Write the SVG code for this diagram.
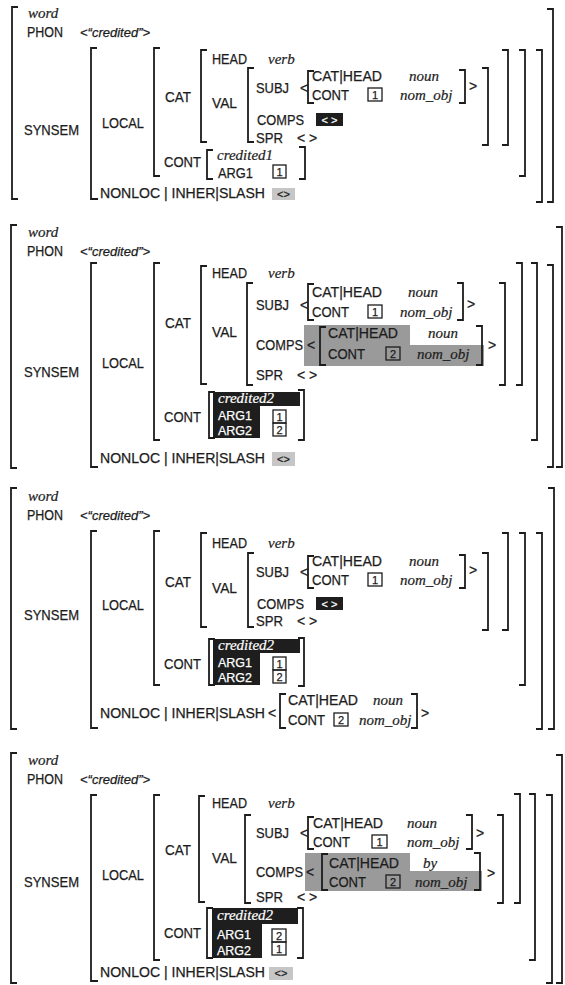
<svg xmlns="http://www.w3.org/2000/svg" width="565" height="985" viewBox="0 0 565 985">
<style>
text{font-family:"Liberation Sans",Arial,sans-serif;font-size:14px;fill:#1c1c1c;stroke:#1c1c1c;stroke-width:0.25}
.i{font-family:"Liberation Serif","Times New Roman",serif;font-style:italic;font-size:15px;stroke-width:0.2}
.ps{font-style:italic;font-size:13px}
.w{fill:#fff;stroke:#fff}
.a{font-size:12.5px}
.sm{font-size:11px}
.br{fill:none;stroke:#1c1c1c;stroke-width:1.8}
.tg{fill:none;stroke:#1c1c1c;stroke-width:1.3}
.tn{font-size:11px;text-anchor:middle}
.blk{fill:#1e1e1e}
.gry{fill:#9a9a9a}
.lgy{fill:#c6c6c6}
</style>
<rect width="565" height="985" fill="#fff"/>

<!-- PANEL 1 -->
<g id="avm1">
<path class="br" d="M18,7H12V199H18"/>
<path class="br" d="M547,9H553V202H547"/>
<text class="i" x="28" y="18">word</text>
<text x="27" y="37" textLength="36" lengthAdjust="spacingAndGlyphs">PHON</text>
<text class="ps" x="80" y="37">&lt;“credited”&gt;</text>
<text x="24" y="135" textLength="55" lengthAdjust="spacingAndGlyphs">SYNSEM</text>
<g id="avm1-synsem">
<path class="br" d="M97,48H91V199H98"/>
<path class="br" d="M536,50H542V202H536"/>
<text x="102" y="128" textLength="42" lengthAdjust="spacingAndGlyphs">LOCAL</text>
<g id="avm1-local">
<path class="br" d="M160,48H154V176H160"/>
<path class="br" d="M519,50H525V176H519"/>
<text x="165" y="102" textLength="26" lengthAdjust="spacingAndGlyphs">CAT</text>
<g id="avm1-cat">
<path class="br" d="M207,50H201V142H207"/>
<path class="br" d="M502,50H508V145H502"/>
<text x="212" y="64" textLength="35" lengthAdjust="spacingAndGlyphs">HEAD</text>
<text class="i" x="268" y="64">verb</text>
<text x="212" y="108" textLength="25" lengthAdjust="spacingAndGlyphs">VAL</text>
<g id="avm1-val">
<path class="br" d="M254,68H248V142H254"/>
<path class="br" d="M482,68H488V145H482"/>
<text x="256" y="93" textLength="33" lengthAdjust="spacingAndGlyphs">SUBJ</text>
<text x="300" y="93">&lt;</text>
<g id="avm1-subj">
<path class="br" d="M314,71H308V103H314"/>
<path class="br" d="M459,70H465V103H459"/>
<text x="312" y="81" textLength="70" lengthAdjust="spacingAndGlyphs">CAT|HEAD</text>
<text class="i" x="409" y="81">noun</text>
<text x="312" y="100" textLength="37" lengthAdjust="spacingAndGlyphs">CONT</text>
<rect class="tg" x="368" y="88" width="14" height="13"/><text class="tn" x="375" y="99">1</text>
<text class="i" x="400" y="100">nom_obj</text>
</g>
<text x="469" y="91">&gt;</text>
<text x="257" y="125" textLength="47" lengthAdjust="spacingAndGlyphs">COMPS</text>
<rect class="blk" x="316" y="113" width="27" height="13"/>
<text class="w sm" x="329.5" y="124" text-anchor="middle">&lt; &gt;</text>
<text x="256" y="143" textLength="27" lengthAdjust="spacingAndGlyphs">SPR</text>
<text x="297" y="143">&lt; &gt;</text>
</g>
</g>
<text x="164" y="167" textLength="37" lengthAdjust="spacingAndGlyphs">CONT</text>
<g id="avm1-cont">
<path class="br" d="M213,150H207V179H213"/>
<path class="br" d="M299,147H305V179H299"/>
<text class="i" x="217" y="160">credited1</text>
<text x="218" y="178" textLength="35" lengthAdjust="spacingAndGlyphs">ARG1</text>
<rect class="tg" x="273" y="165" width="13" height="13"/><text class="tn" x="279.5" y="176">1</text>
</g>
</g>
<text x="100" y="198" textLength="165" lengthAdjust="spacingAndGlyphs">NONLOC | INHER|SLASH</text>
<rect class="lgy" x="272" y="188" width="23" height="12"/>
<text class="sm" x="283.5" y="198" text-anchor="middle">&lt;&gt;</text>
</g>
</g>

<!-- PANEL 2 -->
<g id="avm2">
<path class="br" d="M17,225H11V468H17"/>
<path class="br" d="M556,227H562V467H556"/>
<text class="i" x="28" y="237">word</text>
<text x="27" y="256" textLength="36" lengthAdjust="spacingAndGlyphs">PHON</text>
<text class="ps" x="80" y="256">&lt;“credited”&gt;</text>
<text x="24" y="377" textLength="55" lengthAdjust="spacingAndGlyphs">SYNSEM</text>
<g id="avm2-synsem">
<path class="br" d="M97,263H91V467H98"/>
<path class="br" d="M547,265H553V467H547"/>
<text x="102" y="368" textLength="42" lengthAdjust="spacingAndGlyphs">LOCAL</text>
<g id="avm2-local">
<path class="br" d="M160,263H154V440H160"/>
<path class="br" d="M531,263H537V440H531"/>
<text x="165" y="328" textLength="26" lengthAdjust="spacingAndGlyphs">CAT</text>
<g id="avm2-cat">
<path class="br" d="M207,266H201V384H207"/>
<path class="br" d="M516,263H522V385H516"/>
<text x="212" y="278" textLength="35" lengthAdjust="spacingAndGlyphs">HEAD</text>
<text class="i" x="268" y="278">verb</text>
<text x="212" y="337" textLength="25" lengthAdjust="spacingAndGlyphs">VAL</text>
<g id="avm2-val">
<path class="br" d="M253,283H247V385H253"/>
<path class="br" d="M499,283H505V385H499"/>
<text x="256" y="310" textLength="33" lengthAdjust="spacingAndGlyphs">SUBJ</text>
<text x="300" y="310">&lt;</text>
<g id="avm2-subj">
<path class="br" d="M314,284H308V320H314"/>
<path class="br" d="M457,283H463V320H457"/>
<text x="312" y="297" textLength="70" lengthAdjust="spacingAndGlyphs">CAT|HEAD</text>
<text class="i" x="408" y="297">noun</text>
<text x="312" y="317" textLength="37" lengthAdjust="spacingAndGlyphs">CONT</text>
<rect class="tg" x="368" y="305" width="14" height="13"/><text class="tn" x="375" y="316">1</text>
<text class="i" x="400" y="317">nom_obj</text>
</g>
<text x="467" y="309">&gt;</text>
<text x="256" y="350" textLength="47" lengthAdjust="spacingAndGlyphs">COMPS</text>
<g id="avm2-comps">
<path class="gry" d="M304,325H410V345H484V366H304Z"/>
<text x="307" y="350">&lt;</text>
<path class="br" d="M326,327H320V365H326"/>
<path class="br" d="M476,326H482V365H476"/>
<text x="328" y="338" textLength="70" lengthAdjust="spacingAndGlyphs">CAT|HEAD</text>
<text class="i" x="428" y="338">noun</text>
<text x="328" y="359" textLength="37" lengthAdjust="spacingAndGlyphs">CONT</text>
<rect class="tg" x="386" y="347" width="14" height="13"/><text class="tn" x="393" y="358">2</text>
<text class="i" x="417" y="359">nom_obj</text>
</g>
<text x="488" y="350">&gt;</text>
<text x="256" y="380" textLength="27" lengthAdjust="spacingAndGlyphs">SPR</text>
<text x="297" y="380">&lt; &gt;</text>
</g>
</g>
<text x="164" y="422" textLength="37" lengthAdjust="spacingAndGlyphs">CONT</text>
<g id="avm2-cont">
<path class="br" d="M215,392H209V438H215"/>
<path class="br" d="M298,390H304V440H298"/>
<path class="blk" d="M213,392H300V406H260V438H213Z"/>
<text class="i w" x="218" y="403">credited2</text>
<text class="w a" x="218" y="420" textLength="34" lengthAdjust="spacingAndGlyphs">ARG1</text>
<text class="w a" x="218" y="435" textLength="34" lengthAdjust="spacingAndGlyphs">ARG2</text>
<rect class="tg" x="273" y="410" width="13" height="13"/><text class="tn" x="279.5" y="421">1</text>
<rect class="tg" x="273" y="423" width="13" height="13"/><text class="tn" x="279.5" y="434">2</text>
</g>
</g>
<text x="100" y="463" textLength="165" lengthAdjust="spacingAndGlyphs">NONLOC | INHER|SLASH</text>
<rect class="lgy" x="272" y="452" width="23" height="14"/>
<text class="sm" x="283.5" y="463" text-anchor="middle">&lt;&gt;</text>
</g>
</g>

<!-- PANEL 3 -->
<g id="avm3">
<path class="br" d="M17,488H11V729H17"/>
<path class="br" d="M548,488H554V729H548"/>
<text class="i" x="28" y="501">word</text>
<text x="27" y="520" textLength="36" lengthAdjust="spacingAndGlyphs">PHON</text>
<text class="ps" x="80" y="520">&lt;“credited”&gt;</text>
<text x="24" y="620" textLength="55" lengthAdjust="spacingAndGlyphs">SYNSEM</text>
<g id="avm3-synsem">
<path class="br" d="M97,531H91V728H98"/>
<path class="br" d="M536,533H542V729H536"/>
<text x="102" y="610" textLength="42" lengthAdjust="spacingAndGlyphs">LOCAL</text>
<g id="avm3-local">
<path class="br" d="M160,531H154V685H160"/>
<path class="br" d="M519,533H525V685H519"/>
<text x="165" y="587" textLength="26" lengthAdjust="spacingAndGlyphs">CAT</text>
<g id="avm3-cat">
<path class="br" d="M207,533H201V627H207"/>
<path class="br" d="M502,533H508V630H502"/>
<text x="212" y="548" textLength="35" lengthAdjust="spacingAndGlyphs">HEAD</text>
<text class="i" x="268" y="548">verb</text>
<text x="212" y="593" textLength="25" lengthAdjust="spacingAndGlyphs">VAL</text>
<g id="avm3-val">
<path class="br" d="M254,553H248V627H254"/>
<path class="br" d="M482,553H488V630H482"/>
<text x="256" y="577" textLength="33" lengthAdjust="spacingAndGlyphs">SUBJ</text>
<text x="300" y="577">&lt;</text>
<g id="avm3-subj">
<path class="br" d="M314,556H308V588H314"/>
<path class="br" d="M459,555H465V588H459"/>
<text x="312" y="566" textLength="70" lengthAdjust="spacingAndGlyphs">CAT|HEAD</text>
<text class="i" x="409" y="566">noun</text>
<text x="312" y="585" textLength="37" lengthAdjust="spacingAndGlyphs">CONT</text>
<rect class="tg" x="368" y="573" width="14" height="13"/><text class="tn" x="375" y="584">1</text>
<text class="i" x="400" y="585">nom_obj</text>
</g>
<text x="469" y="575">&gt;</text>
<text x="257" y="609" textLength="47" lengthAdjust="spacingAndGlyphs">COMPS</text>
<rect class="blk" x="316" y="597" width="27" height="13"/>
<text class="w sm" x="329.5" y="608" text-anchor="middle">&lt; &gt;</text>
<text x="256" y="626" textLength="27" lengthAdjust="spacingAndGlyphs">SPR</text>
<text x="297" y="626">&lt; &gt;</text>
</g>
</g>
<text x="164" y="669" textLength="37" lengthAdjust="spacingAndGlyphs">CONT</text>
<g id="avm3-cont">
<path class="br" d="M215,639H209V685H215"/>
<path class="br" d="M298,638H304V686H298"/>
<path class="blk" d="M213,639H300V653H260V685H213Z"/>
<text class="i w" x="218" y="650">credited2</text>
<text class="w a" x="218" y="667" textLength="34" lengthAdjust="spacingAndGlyphs">ARG1</text>
<text class="w a" x="218" y="682" textLength="34" lengthAdjust="spacingAndGlyphs">ARG2</text>
<rect class="tg" x="273" y="657" width="13" height="13"/><text class="tn" x="279.5" y="668">1</text>
<rect class="tg" x="273" y="670" width="13" height="13"/><text class="tn" x="279.5" y="681">2</text>
</g>
</g>
<text x="100" y="718" textLength="165" lengthAdjust="spacingAndGlyphs">NONLOC | INHER|SLASH</text>
<text x="268" y="718">&lt;</text>
<g id="avm3-slash">
<path class="br" d="M286,694H280V728H286"/>
<path class="br" d="M411,694H417V728H411"/>
<text x="288" y="705" textLength="70" lengthAdjust="spacingAndGlyphs">CAT|HEAD</text>
<text class="i" x="373" y="705">noun</text>
<text x="288" y="725" textLength="37" lengthAdjust="spacingAndGlyphs">CONT</text>
<rect class="tg" x="334" y="713" width="14" height="13"/><text class="tn" x="341" y="724">2</text>
<text class="i" x="359" y="725">nom_obj</text>
</g>
<text x="421" y="718">&gt;</text>
</g>
</g>

<!-- PANEL 4 -->
<g id="avm4">
<path class="br" d="M17,753H11V983H17"/>
<path class="br" d="M556,755H562V983H556"/>
<text class="i" x="28" y="765">word</text>
<text x="27" y="784" textLength="36" lengthAdjust="spacingAndGlyphs">PHON</text>
<text class="ps" x="80" y="784">&lt;“credited”&gt;</text>
<text x="24" y="887" textLength="55" lengthAdjust="spacingAndGlyphs">SYNSEM</text>
<g id="avm4-synsem">
<path class="br" d="M97,795H91V981H98"/>
<path class="br" d="M546,795H552V983H546"/>
<text x="102" y="880" textLength="42" lengthAdjust="spacingAndGlyphs">LOCAL</text>
<g id="avm4-local">
<path class="br" d="M160,795H154V960H160"/>
<path class="br" d="M529,794H535V960H529"/>
<text x="165" y="855" textLength="26" lengthAdjust="spacingAndGlyphs">CAT</text>
<g id="avm4-cat">
<path class="br" d="M205,796H199V902H205"/>
<path class="br" d="M514,794H520V903H514"/>
<text x="212" y="808" textLength="35" lengthAdjust="spacingAndGlyphs">HEAD</text>
<text class="i" x="268" y="808">verb</text>
<text x="212" y="863" textLength="25" lengthAdjust="spacingAndGlyphs">VAL</text>
<g id="avm4-val">
<path class="br" d="M251,815H245V903H251"/>
<path class="br" d="M497,815H503V903H497"/>
<text x="256" y="838" textLength="33" lengthAdjust="spacingAndGlyphs">SUBJ</text>
<text x="300" y="838">&lt;</text>
<g id="avm4-subj">
<path class="br" d="M314,817H308V849H314"/>
<path class="br" d="M466,815H472V849H466"/>
<text x="313" y="828" textLength="70" lengthAdjust="spacingAndGlyphs">CAT|HEAD</text>
<text class="i" x="407" y="828">noun</text>
<text x="313" y="847" textLength="37" lengthAdjust="spacingAndGlyphs">CONT</text>
<rect class="tg" x="372" y="835" width="15" height="13"/><text class="tn" x="379.5" y="846">1</text>
<text class="i" x="407" y="847">nom_obj</text>
</g>
<text x="476" y="838">&gt;</text>
<text x="256" y="877" textLength="47" lengthAdjust="spacingAndGlyphs">COMPS</text>
<g id="avm4-comps">
<path class="gry" d="M305,853H410V871H482V891H305Z"/>
<text x="306" y="877">&lt;</text>
<path class="br" d="M328,854H322V890H328"/>
<path class="br" d="M474,853H480V890H474"/>
<text x="329" y="868" textLength="70" lengthAdjust="spacingAndGlyphs">CAT|HEAD</text>
<text class="i" x="423" y="868">by</text>
<text x="329" y="887" textLength="37" lengthAdjust="spacingAndGlyphs">CONT</text>
<rect class="tg" x="386" y="875" width="14" height="13"/><text class="tn" x="393" y="886">2</text>
<text class="i" x="415" y="887">nom_obj</text>
</g>
<text x="487" y="878">&gt;</text>
<text x="256" y="902" textLength="27" lengthAdjust="spacingAndGlyphs">SPR</text>
<text x="297" y="902">&lt; &gt;</text>
</g>
</g>
<text x="164" y="938" textLength="37" lengthAdjust="spacingAndGlyphs">CONT</text>
<g id="avm4-cont">
<path class="br" d="M213,908H207V958H213"/>
<path class="br" d="M297,908H303V958H297"/>
<path class="blk" d="M212,908H298V924H262V958H212Z"/>
<text class="i w" x="217" y="920">credited2</text>
<text class="w a" x="217" y="939" textLength="34" lengthAdjust="spacingAndGlyphs">ARG1</text>
<text class="w a" x="217" y="955" textLength="34" lengthAdjust="spacingAndGlyphs">ARG2</text>
<rect class="tg" x="272" y="929" width="14" height="13"/><text class="tn" x="279" y="940">2</text>
<rect class="tg" x="272" y="942" width="14" height="13"/><text class="tn" x="279" y="953">1</text>
</g>
</g>
<text x="100" y="977" textLength="165" lengthAdjust="spacingAndGlyphs">NONLOC | INHER|SLASH</text>
<rect class="lgy" x="269" y="967" width="24" height="13"/>
<text class="sm" x="281" y="977" text-anchor="middle">&lt;&gt;</text>
</g>
</g>
</svg>
